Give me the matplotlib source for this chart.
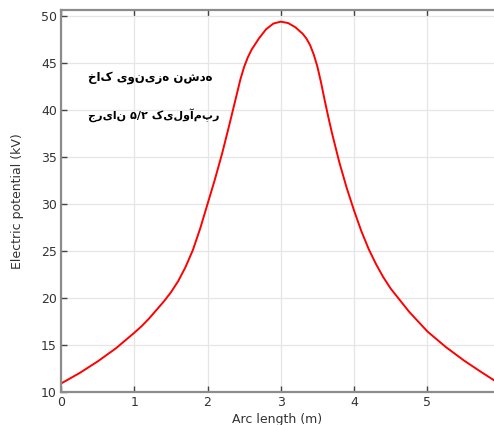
import matplotlib
matplotlib.use("Agg")
import matplotlib.pyplot as plt

# values
arc_length = [0, 0.25, 0.5, 0.75, 1.0, 1.1, 1.2, 1.3, 1.4, 1.5, 1.6, 1.7, 1.8, 1.9,
              2.0, 2.1, 2.2, 2.3, 2.4, 2.45, 2.5, 2.55, 2.6, 2.7, 2.8, 2.9, 3.0, 3.1,
              3.2, 3.3, 3.35, 3.4, 3.45, 3.5, 3.55, 3.6, 3.65, 3.7, 3.8, 3.9, 4.0,
              4.1, 4.2, 4.3, 4.4, 4.5, 4.75, 5.0, 5.25, 5.5, 5.75, 5.91]
potential = [10.9, 12.0, 13.25, 14.65, 16.3, 17.0, 17.8, 18.7, 19.6, 20.6, 21.8, 23.3, 25.1, 27.4,
             30.0, 32.6, 35.4, 38.5, 41.7, 43.3, 44.6, 45.6, 46.4, 47.6, 48.6, 49.2, 49.4, 49.25,
             48.8, 48.1, 47.6, 46.9, 45.9, 44.6, 42.9, 41.0, 39.2, 37.5, 34.4, 31.7, 29.3,
             27.1, 25.2, 23.6, 22.2, 21.0, 18.55, 16.45, 14.8, 13.35, 12.05, 11.25]
x_ticks = [0, 1, 2, 3, 4, 5]
y_ticks = [10, 15, 20, 25, 30, 35, 40, 45, 50]

note_1 = "خاک یونیزه نشده"
note_2 = "جریان ۵/۲ کیلوآمپر"

fig = plt.figure(figsize=(4.94, 4.25), dpi=100)
ax = fig.add_axes([61 / 494, 33 / 425, 433 / 494, 382 / 425])

ax.plot(arc_length, potential, color="red", linewidth=1.4)

ax.set_xlim(0, 5.91)
ax.set_ylim(10, 50.64)
ax.set_xticks(x_ticks)
ax.set_yticks(y_ticks)
ax.grid(True, color="#e6e6e6", linewidth=0.9)
ax.set_axisbelow(True)

ax.tick_params(direction="in", length=4, width=1, color="#444444",
               labelsize=9, labelcolor="#333333", top=True, pad=3)
for side in ["left", "bottom", "top"]:
    ax.spines[side].set_color("#8c8c8c")
    ax.spines[side].set_linewidth(1.6)
ax.spines["right"].set_visible(False)

ax.set_xlabel("Arc length (m)", fontsize=9, color="#333333", labelpad=3)
ax.set_ylabel("Electric potential (kV)", fontsize=9, color="#333333", labelpad=12)

ax.text(88, 425 - 78, note_1, transform=None, fontsize=8.5, fontweight="bold",
        va="center", ha="left", family="DejaVu Sans")
ax.text(88, 425 - 115, note_2, transform=None, fontsize=8.0, fontweight="bold",
        va="center", ha="left", family="DejaVu Sans")

fig.savefig("out.png", dpi=100)
